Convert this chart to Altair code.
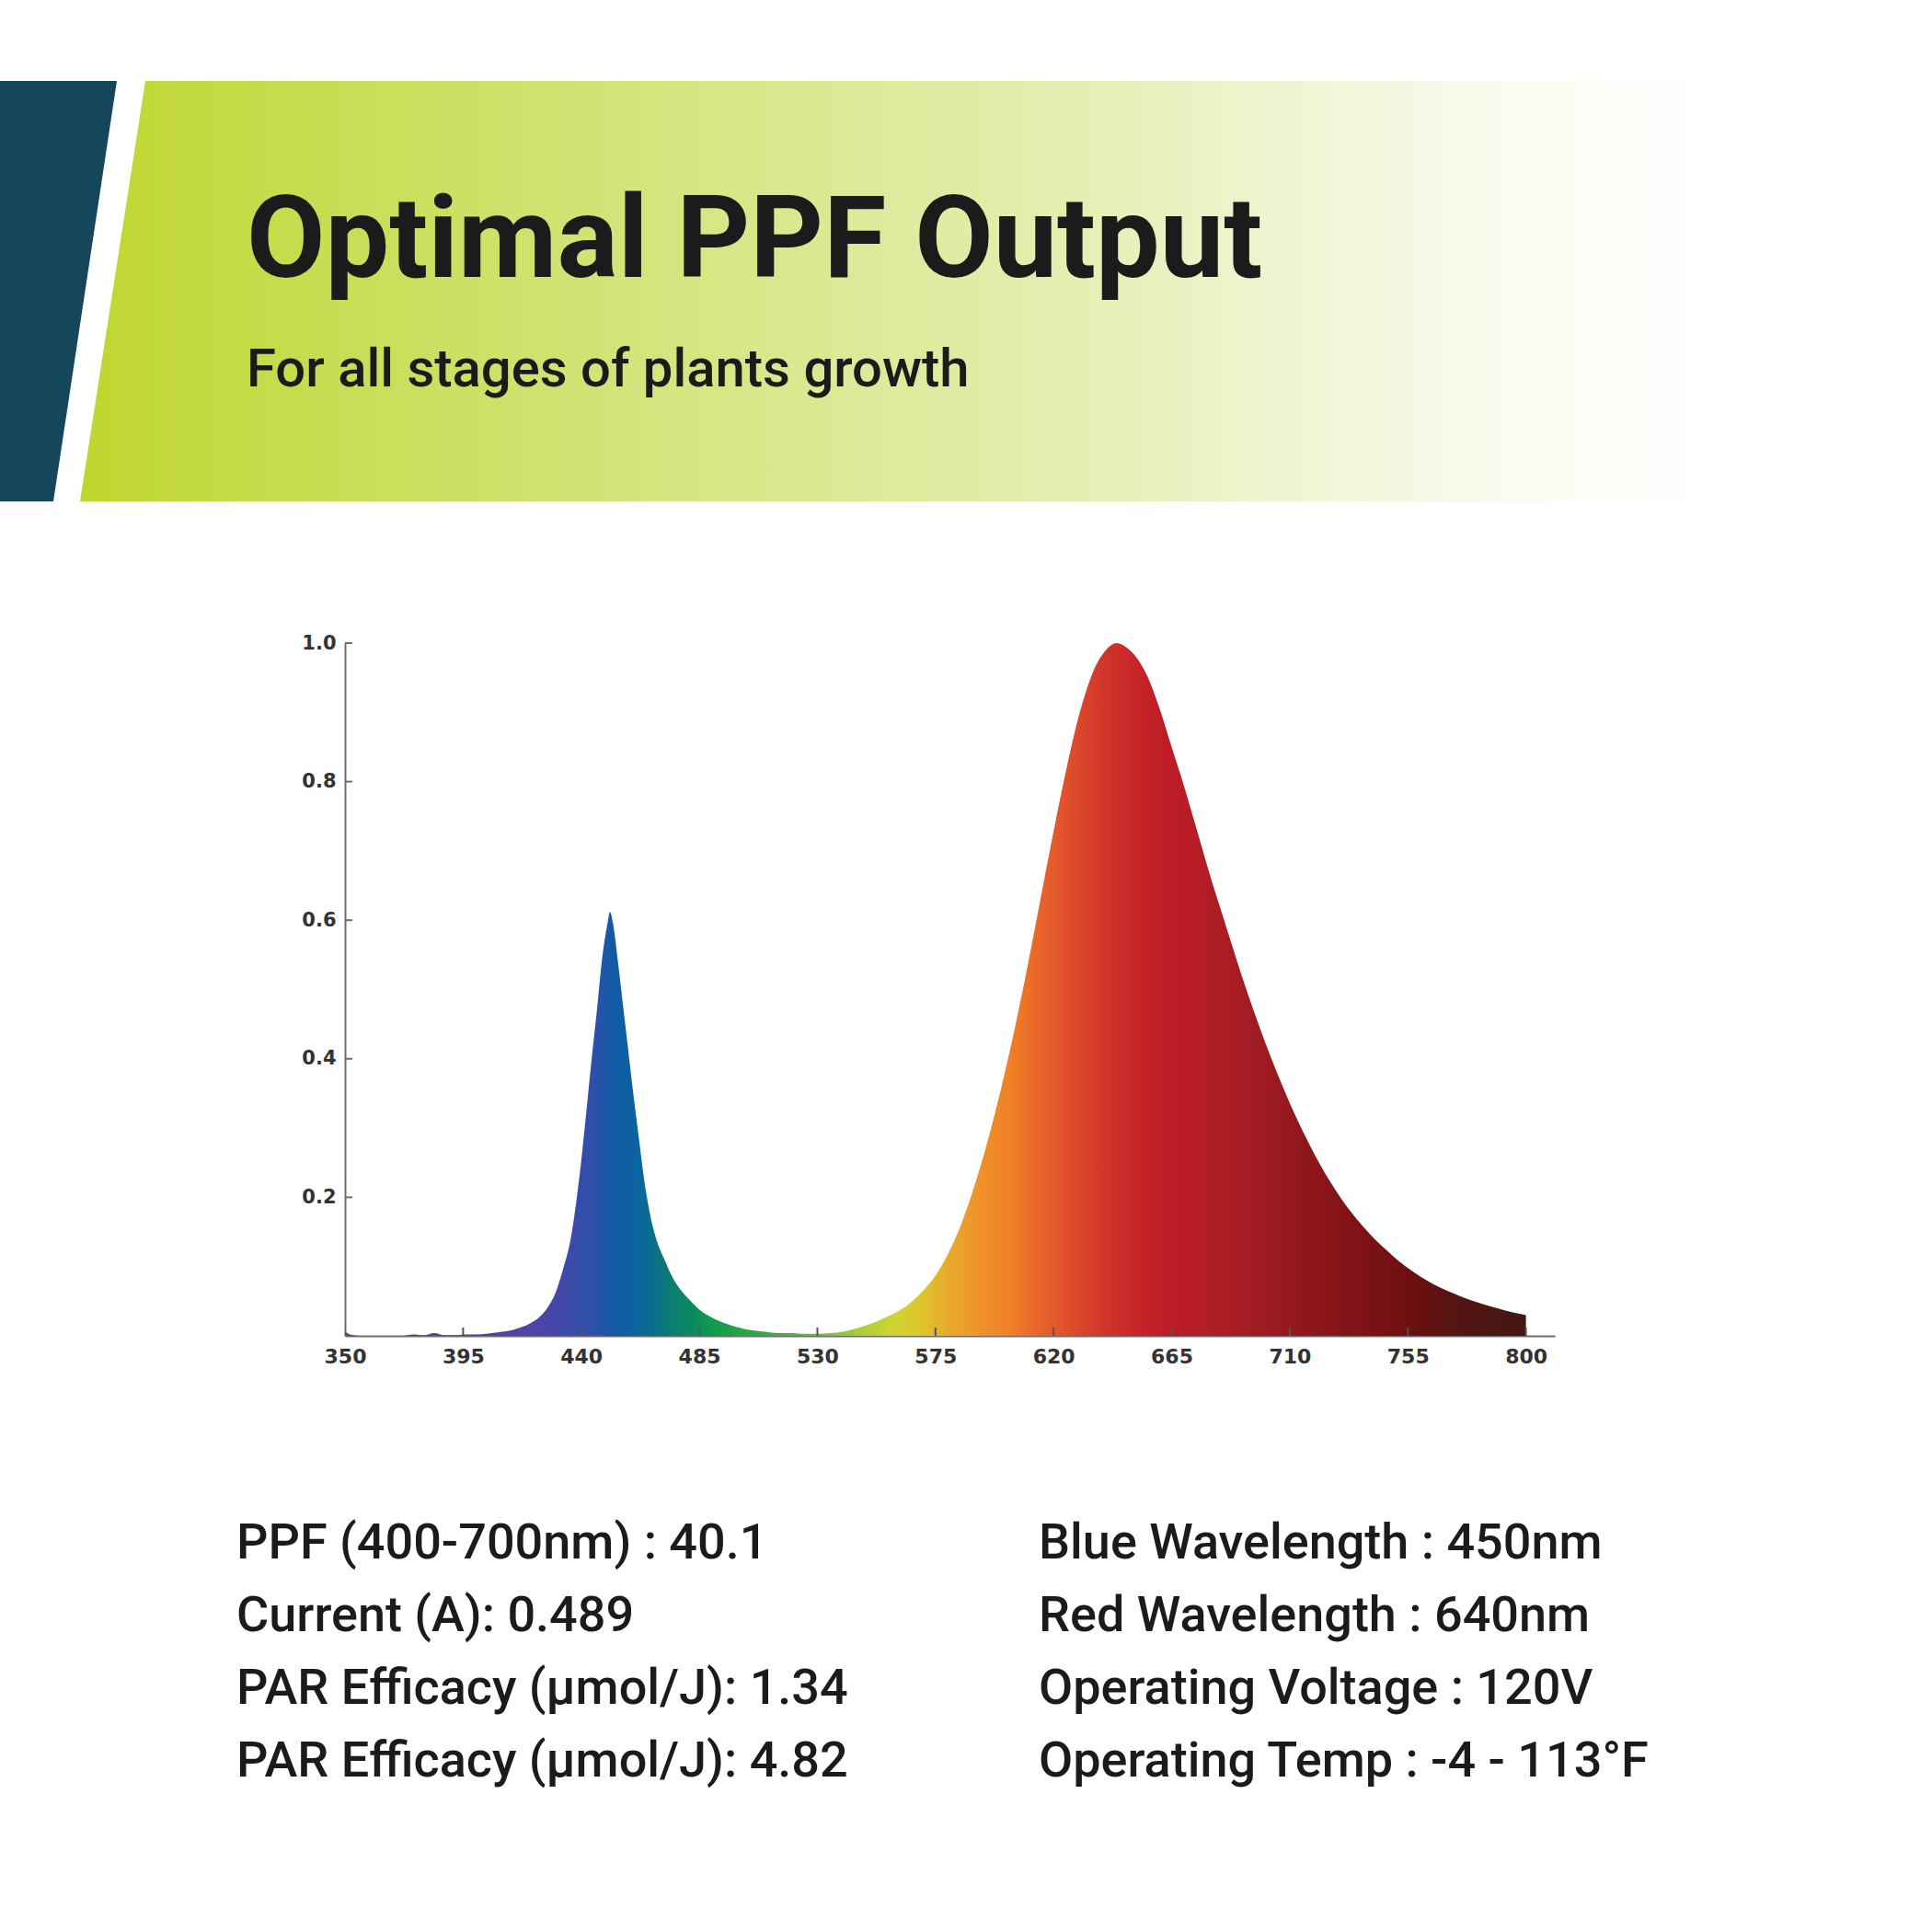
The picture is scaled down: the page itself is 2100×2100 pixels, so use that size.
import altair as alt
import pandas as pd

# ---------------- data ----------------
wavelengths = [350, 352, 356, 360, 366, 372, 376, 380, 384, 388, 392, 396, 400, 404, 408, 412, 416,
               420, 424, 427, 430, 433, 436, 438, 440, 442, 444, 446, 448, 450, 451, 452, 454, 456,
               458, 460, 462, 464, 466, 469, 472, 475, 478, 481, 485, 490, 495, 500, 505, 510, 515,
               520, 525, 530, 535, 540, 545, 550, 555, 560, 565, 570, 575, 580, 585, 590, 595, 600,
               605, 610, 615, 620, 625, 630, 635, 640, 644, 648, 652, 656, 660, 665, 670, 675, 680,
               685, 690, 695, 700, 705, 710, 715, 720, 725, 730, 735, 740, 745, 750, 755, 760, 765,
               770, 775, 780, 785, 790, 795, 800]
intensity = [0.006, 0.002, 0.0, 0.0, 0.0, 0.0, 0.002, 0.001, 0.004, 0.001, 0.001, 0.002, 0.002,
             0.003, 0.005, 0.007, 0.011, 0.017, 0.027, 0.04, 0.06, 0.095, 0.14, 0.19, 0.252, 0.325,
             0.40, 0.47, 0.545, 0.595, 0.612, 0.598, 0.54, 0.475, 0.41, 0.345, 0.285, 0.225, 0.18,
             0.135, 0.108, 0.083, 0.066, 0.053, 0.038, 0.026, 0.018, 0.012, 0.008, 0.006, 0.004,
             0.004, 0.003, 0.003, 0.004, 0.006, 0.011, 0.017, 0.025, 0.034, 0.046, 0.064, 0.087,
             0.12, 0.163, 0.218, 0.283, 0.357, 0.44, 0.532, 0.63, 0.728, 0.82, 0.9, 0.958, 0.99,
             1.0, 0.993, 0.977, 0.95, 0.91, 0.85, 0.79, 0.725, 0.66, 0.6, 0.54, 0.483, 0.43, 0.381,
             0.336, 0.295, 0.258, 0.225, 0.196, 0.171, 0.149, 0.13, 0.113, 0.098, 0.085, 0.074,
             0.065, 0.057, 0.05, 0.044, 0.039, 0.034, 0.030]

x_ticks = [350, 395, 440, 485, 530, 575, 620, 665, 710, 755, 800]
y_ticks = [0.2, 0.4, 0.6, 0.8, 1.0]

spectrum_nm = [350, 398, 412, 425, 436, 446, 452, 460, 467, 474, 482, 490, 500, 515, 530, 545, 558,
               568, 580, 592, 604, 615, 628, 640, 652, 664, 680, 700, 720, 740, 758, 775, 800]
spectrum_col = ["#7a3a6a", "#5a3c8e", "#553fa3", "#4b44a8", "#3a4ba8", "#2a52a8", "#1259a6",
                "#0b62a0", "#0a6e8c", "#0a7c74", "#0a8a5e", "#0f9a4c", "#22a546", "#3aae46",
                "#6cbc40", "#a8cb3a", "#cdd433", "#ddc82c", "#e8aa2c", "#f0922a", "#ef7f26",
                "#e8642a", "#dc4a2a", "#d0342a", "#c62428", "#be1c26", "#b01d25", "#9e1b22",
                "#8c161a", "#7c1214", "#6a0f10", "#521513", "#431612"]

title_text = "Optimal PPF Output"
subtitle_text = "For all stages of plants growth"
specs_left = ["PPF (400-700nm) : 40.1", "Current (A): 0.489",
              "PAR Efficacy (μmol/J): 1.34", "PAR Efficacy (μmol/J): 4.82"]
specs_right = ["Blue Wavelength : 450nm", "Red Wavelength : 640nm",
               "Operating Voltage : 120V", "Operating Temp : -4 - 113°F"]

# ---------------- layout ----------------
W = 2100
H = 2100
PLOT_LEFT, PLOT_RIGHT = 375, 1690
PLOT_TOP, PLOT_BOTTOM = 699, 1452

# ---------------- canvas (banner + texts) ----------------
cx = alt.Scale(domain=[0, W], nice=False, zero=False)
cy = alt.Scale(domain=[0, H], nice=False, zero=False, reverse=True)

teal_df = pd.DataFrame({"y": [88, 545], "x": [0, 0], "x2": [127, 58]})
green_df = pd.DataFrame({"y": [88, 545], "x": [158, 87], "x2": [W, W]})

band_x = [87, 300, 600, 900, 1150, 1350, 1550, 1700, 1860]
band_col = ["#bfd62f", "#c6dc4c", "#d0e270", "#daea94", "#e3eeb0", "#ecf4cc", "#f5f9e6",
            "#fbfdf5", "#ffffff"]

teal = alt.Chart(teal_df).mark_area(orient="horizontal", color="#14475b").encode(
    y=alt.Y("y:Q", scale=cy, axis=None),
    x=alt.X("x:Q", scale=cx, axis=None),
    x2="x2:Q",
)
green = alt.Chart(green_df).mark_area(
    orient="horizontal",
    color=alt.Gradient(
        gradient="linear",
        stops=[alt.GradientStop(color=c, offset=(p - 87) / (W - 87)) for p, c in zip(band_x, band_col)],
        x1=0, x2=1, y1=0, y2=0,
    ),
).encode(
    y=alt.Y("y:Q", scale=cy, axis=None),
    x=alt.X("x:Q", scale=cx, axis=None),
    x2="x2:Q",
)


def text_layer(df, size, weight):
    return alt.Chart(df).mark_text(
        align="left", baseline="alphabetic", font="Roboto", fontSize=size, fontWeight=weight,
        color="#1b1b1b"
    ).encode(x=alt.X("x:Q", scale=cx, axis=None), y=alt.Y("y:Q", scale=cy, axis=None), text="t:N")


title = text_layer(pd.DataFrame({"t": [title_text], "x": [268], "y": [301]}), 124, "bold")
subtitle = text_layer(pd.DataFrame({"t": [subtitle_text], "x": [268], "y": [420]}), 58, 500)

row_base = [1694, 1773, 1852, 1931]
col_x = [257, 1129]
rows = []
for i, t in enumerate(specs_left):
    rows.append({"t": t, "x": col_x[0], "y": row_base[i]})
for i, t in enumerate(specs_right):
    rows.append({"t": t, "x": col_x[1], "y": row_base[i]})
spec_text = text_layer(pd.DataFrame(rows), 54, 500)

canvas = alt.layer(teal, green, title, subtitle, spec_text)

# ---------------- spectrum ----------------
xs = alt.Scale(domain=[350, 811], range=[PLOT_LEFT, PLOT_RIGHT], nice=False, zero=False)
ys = alt.Scale(domain=[0, 1], range=[PLOT_BOTTOM, PLOT_TOP], nice=False, zero=False)

spec_df = pd.DataFrame({"wl": wavelengths, "v": intensity})
grad = alt.Gradient(
    gradient="linear",
    stops=[alt.GradientStop(color=c, offset=(n - 350) / 450) for n, c in zip(spectrum_nm, spectrum_col)],
    x1=0, x2=1, y1=0, y2=0,
)
x_axis = alt.Axis(orient="bottom", offset=-(H - PLOT_BOTTOM), values=x_ticks, ticks=False,
                  grid=False, title=None, domainColor="#6e6e6e", domainWidth=2,
                  labelFont="DejaVu Sans", labelFontWeight="bold", labelFontSize=22,
                  labelColor="#333333", labelPadding=12, labelFlush=False)
y_axis = alt.Axis(orient="left", offset=-PLOT_LEFT, values=y_ticks, format=".1f", ticks=False,
                  grid=False, title=None, domainColor="#6e6e6e", domainWidth=2,
                  labelFont="DejaVu Sans", labelFontWeight="bold", labelFontSize=21,
                  labelColor="#333333", labelPadding=10)

area = alt.Chart(spec_df).mark_area(color=grad, interpolate="monotone").encode(
    x=alt.X("wl:Q", scale=xs, axis=x_axis),
    y=alt.Y("v:Q", scale=ys, axis=y_axis),
)
xtick = alt.Chart(pd.DataFrame({"wl": x_ticks[1:]})).mark_rule(color="#555555", strokeWidth=2).encode(
    x=alt.X("wl:Q", scale=xs, axis=x_axis),
    y=alt.datum(0),
    y2=alt.datum(0.012),
)
ytick = alt.Chart(pd.DataFrame({"v": y_ticks})).mark_rule(color="#6e6e6e", strokeWidth=2).encode(
    y=alt.Y("v:Q", scale=ys, axis=y_axis),
    x=alt.datum(350),
    x2=alt.datum(352.8),
)
spectrum = alt.layer(area, xtick, ytick)

chart = alt.layer(canvas, spectrum).resolve_scale(x="independent", y="independent").properties(
    width=W, height=H, padding=0, background="white",
    autosize=alt.AutoSizeParams(type="none"),
).configure_view(stroke=None)

chart.save("out.html", embed_options={"renderer": "svg", "actions": False})
